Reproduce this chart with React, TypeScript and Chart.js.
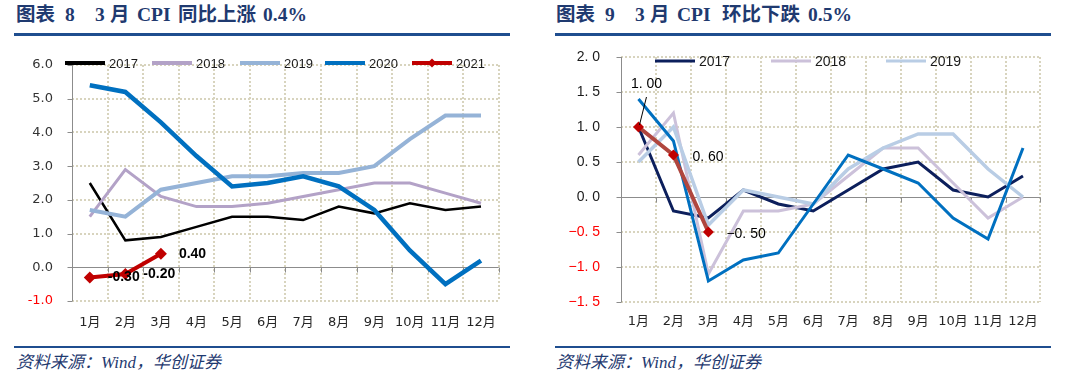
import React, { useEffect, useRef } from "react";
import { Chart, registerables } from "chart.js";
Chart.register(...registerables);

// ---------- data ----------
const months = ["1月", "2月", "3月", "4月", "5月", "6月", "7月", "8月", "9月", "10月", "11月", "12月"];

// 图表 8: CPI 同比 (%)
const yoy2017 = [2.5, 0.8, 0.9, 1.2, 1.5, 1.5, 1.4, 1.8, 1.6, 1.9, 1.7, 1.8];
const yoy2018 = [1.5, 2.9, 2.1, 1.8, 1.8, 1.9, 2.1, 2.3, 2.5, 2.5, 2.2, 1.9];
const yoy2019 = [1.7, 1.5, 2.3, 2.5, 2.7, 2.7, 2.8, 2.8, 3.0, 3.8, 4.5, 4.5];
const yoy2020 = [5.4, 5.2, 4.3, 3.3, 2.4, 2.5, 2.7, 2.4, 1.7, 0.5, -0.5, 0.2];
const yoy2021 = [-0.3, -0.2, 0.4];
const yoyTicks = { min: -1, max: 6, step: 1 };

// 图表 9: CPI 环比 (%)
const mom2017 = [1.0, -0.2, -0.3, 0.1, -0.1, -0.2, 0.1, 0.4, 0.5, 0.1, 0.0, 0.3];
const mom2018 = [0.6, 1.2, -1.1, -0.2, -0.2, -0.1, 0.3, 0.7, 0.7, 0.2, -0.3, 0.0];
const mom2019 = [0.5, 1.0, -0.4, 0.1, 0.0, -0.1, 0.4, 0.7, 0.9, 0.9, 0.4, 0.0];
const mom2020 = [1.4, 0.8, -1.2, -0.9, -0.8, -0.1, 0.6, 0.4, 0.2, -0.3, -0.6, 0.7];
const mom2021 = [1.0, 0.6, -0.5];
const momTicks = { min: -1.5, max: 2, step: 0.5 };

// titles / notes
const title8 = ["图表", "8", "3", "月", "CPI", "同比上涨", "0.4%"];
const title9 = ["图表", "9", "3", "月", "CPI", "环比下跌", "0.5%"];
const sourceNote = "资料来源：Wind，华创证券";

// ---------- styles ----------
const GRID = "#D8D4BE";
const AXIS = "#8C8C8C";
const NAVY = "#1F3A70";
const RULE = "#1F4E8F";
const XFONT = "'DejaVu Sans', 'Noto Sans CJK SC', sans-serif";
const title8X = [0, 49, 79, 94, 121, 162, 247];
const title9X = [0, 49, 79, 94, 121, 166, 252];

type LegendItem = { text: string; color: string; lw: number; marker?: string };

function gridPlugin() {
  return {
    id: "excelGrid",
    beforeDatasetsDraw(chart: any) {
      const { ctx, chartArea: a, scales } = chart;
      const x = scales.x;
      const y = scales.y;
      const n = x.getLabels().length;
      const step = (a.right - a.left) / n;
      ctx.save();
      ctx.strokeStyle = GRID;
      ctx.lineWidth = 2;
      ctx.setLineDash([2, 2]);
      ctx.beginPath();
      y.ticks.forEach((t: any) => {
        if (Math.abs(t.value) < 1e-9) return;
        const py = Math.round(y.getPixelForValue(t.value));
        ctx.moveTo(a.left, py);
        ctx.lineTo(a.right, py);
      });
      for (let i = 1; i <= n; i++) {
        const px = Math.round(a.left + i * step);
        ctx.moveTo(px, a.top);
        ctx.lineTo(px, a.bottom);
      }
      ctx.stroke();
      ctx.setLineDash([]);
      ctx.strokeStyle = AXIS;
      ctx.lineWidth = 1;
      ctx.beginPath();
      const L = Math.round(a.left) + 0.5;
      ctx.moveTo(L, a.top);
      ctx.lineTo(L, a.bottom);
      y.ticks.forEach((t: any) => {
        const py = Math.round(y.getPixelForValue(t.value)) + 0.5;
        ctx.moveTo(L - 5, py);
        ctx.lineTo(L, py);
      });
      const y0 = Math.round(y.getPixelForValue(0)) + 0.5;
      ctx.moveTo(a.left, y0);
      ctx.lineTo(a.right, y0);
      for (let i = 1; i <= n; i++) {
        const px = Math.round(a.left + i * step) + 0.5;
        ctx.moveTo(px, y0);
        ctx.lineTo(px, y0 + 5);
      }
      ctx.stroke();
      ctx.restore();
    },
  };
}

function legendPlugin(items: LegendItem[], xs: number[], y: number, lineLen: number, font: string) {
  return {
    id: "excelLegend",
    afterDatasetsDraw(chart: any) {
      const ctx = chart.ctx;
      ctx.save();
      items.forEach((it, i) => {
        const x0 = xs[i];
        ctx.strokeStyle = it.color;
        ctx.lineWidth = it.lw;
        ctx.beginPath();
        ctx.moveTo(x0, y);
        ctx.lineTo(x0 + lineLen, y);
        ctx.stroke();
        if (it.marker) {
          const cx = x0 + lineLen / 2;
          const r = 4.5;
          ctx.fillStyle = it.marker;
          ctx.beginPath();
          ctx.moveTo(cx, y - r);
          ctx.lineTo(cx + r, y);
          ctx.lineTo(cx, y + r);
          ctx.lineTo(cx - r, y);
          ctx.closePath();
          ctx.fill();
        }
        ctx.fillStyle = "#1a1a1a";
        ctx.font = font;
        ctx.textBaseline = "middle";
        ctx.textAlign = "left";
        ctx.fillText(it.text, x0 + lineLen + 4, y + 1);
      });
      ctx.restore();
    },
  };
}

type LabelSpec = { dx: number; dy: number; align: CanvasTextAlign; leader?: boolean };

function pointLabelPlugin(dsIndex: number, specs: LabelSpec[], fmt: (v: number) => string, font: string) {
  return {
    id: "pointLabels",
    afterDatasetsDraw(chart: any) {
      const ctx = chart.ctx;
      const meta = chart.getDatasetMeta(dsIndex);
      const data = chart.data.datasets[dsIndex].data as number[];
      ctx.save();
      ctx.font = font;
      ctx.fillStyle = "#000";
      ctx.textBaseline = "middle";
      meta.data.forEach((pt: any, i: number) => {
        const s = specs[i];
        if (!s) return;
        const tx = pt.x + s.dx;
        const ty = pt.y + s.dy;
        if (s.leader) {
          ctx.strokeStyle = "#000";
          ctx.lineWidth = 1;
          ctx.beginPath();
          ctx.moveTo(pt.x + 1, pt.y - 2);
          ctx.lineTo(tx, ty + 13);
          ctx.stroke();
        }
        ctx.textAlign = s.align;
        ctx.fillText(fmt(data[i]), tx, ty);
      });
      ctx.restore();
    },
  };
}

function ds(label: string, data: number[], color: string, width: number, order: number, marker?: string, radius = 6) {
  return {
    label,
    data,
    borderColor: color,
    backgroundColor: color,
    borderWidth: width,
    pointRadius: marker ? radius : 0,
    pointHoverRadius: marker ? radius : 0,
    pointStyle: "rectRot",
    pointBackgroundColor: marker || color,
    pointBorderWidth: 0,
    tension: 0,
    fill: false,
    order,
  };
}

function baseOptions(
  ticks: { min: number; max: number; step: number },
  fmt: (v: number) => string,
  yFont: { family: string; size: number },
  yGap: number,
  yWidth: number,
  xPad: number,
  xHeight: number,
  padding: any,
  tickColor: string
) {
  return {
    responsive: false,
    maintainAspectRatio: false,
    animation: false,
    devicePixelRatio: 1,
    layout: { padding },
    plugins: { legend: { display: false }, tooltip: { enabled: false }, title: { display: false } },
    scales: {
      x: {
        type: "category",
        offset: true,
        grid: { display: false, drawTicks: false },
        border: { display: false },
        ticks: {
          font: { family: XFONT, size: 13 },
          color: "#262626",
          padding: xPad,
          maxRotation: 0,
          autoSkip: false,
        },
        afterFit: (s: any) => {
          s.height = xHeight;
        },
      },
      y: {
        min: ticks.min,
        max: ticks.max,
        grid: { display: false, drawTicks: true, tickLength: yGap },
        border: { display: false },
        ticks: {
          stepSize: ticks.step,
          font: yFont,
          padding: 0,
          color: (c: any) => (c.tick && c.tick.value < 0 ? "#FF0000" : tickColor),
          callback: (v: any) => fmt(Number(v)),
        },
        afterFit: (s: any) => {
          s.width = yWidth;
        },
      },
    },
  };
}

const fmtLeft = (v: number) => v.toFixed(1);
const fmtRight = (v: number) => (v < -1e-9 ? "−" : "") + Math.abs(v).toFixed(1).replace(".", ". ");
const fmtLeftLbl = (v: number) => v.toFixed(2);
const fmtRightLbl = (v: number) => (v < 0 ? "−" : "") + Math.abs(v).toFixed(2).replace(".", ". ");

function leftConfig(): any {
  const datasets = [
    ds("2017", yoy2017, "#000000", 2.5, 5),
    ds("2018", yoy2018, "#B3A2C7", 3, 4),
    ds("2019", yoy2019, "#95B3D7", 4, 3),
    ds("2020", yoy2020, "#0070C0", 4.5, 2),
    ds("2021", yoy2021, "#C00000", 4, 1, "#C00000", 6),
  ];
  const legendItems: LegendItem[] = [
    { text: "2017", color: "#000000", lw: 4 },
    { text: "2018", color: "#B3A2C7", lw: 4 },
    { text: "2019", color: "#95B3D7", lw: 4 },
    { text: "2020", color: "#0070C0", lw: 4 },
    { text: "2021", color: "#C00000", lw: 4, marker: "#C00000" },
  ];
  return {
    type: "line",
    data: { labels: months, datasets },
    options: baseOptions(
      yoyTicks,
      fmtLeft,
      { family: "'DejaVu Sans', sans-serif", size: 13 },
      19,
      58,
      14,
      39,
      { left: 0, right: 2, top: 25, bottom: 0 },
      "#333333"
    ),
    plugins: [
      gridPlugin(),
      legendPlugin(legendItems, [51, 138, 226, 311, 398], 23, 40, "13px 'Liberation Sans', sans-serif"),
      pointLabelPlugin(
        4,
        [
          { dx: 18, dy: 0, align: "left" },
          { dx: 18, dy: 0, align: "left" },
          { dx: 18, dy: 0, align: "left" },
        ],
        fmtLeftLbl,
        "bold 14px 'Liberation Sans', sans-serif"
      ),
    ],
  };
}

function rightConfig(): any {
  const datasets = [
    ds("2017", mom2017, "#0C1F5C", 3, 5),
    ds("2018", mom2018, "#CCC1DA", 3, 4),
    ds("2019", mom2019, "#B9CDE5", 3.5, 3),
    ds("2020", mom2020, "#0070C0", 3, 2),
    ds("2021", mom2021, "#B0463E", 4, 1, "#C00000", 5.5),
  ];
  const legendItems: LegendItem[] = [
    { text: "2017", color: "#0C1F5C", lw: 3 },
    { text: "2018", color: "#CCC1DA", lw: 3 },
    { text: "2019", color: "#B9CDE5", lw: 3 },
  ];
  return {
    type: "line",
    data: { labels: months, datasets },
    options: baseOptions(
      momTicks,
      fmtRight,
      { family: "'Liberation Sans', sans-serif", size: 14 },
      21,
      66,
      12,
      38,
      { left: 0, right: 2, top: 17, bottom: 0 },
      "#1a1a1a"
    ),
    plugins: [
      gridPlugin(),
      legendPlugin(legendItems, [100, 216, 331], 21, 40, "14px 'Liberation Sans', sans-serif"),
      pointLabelPlugin(
        4,
        [
          { dx: 8, dy: -43, align: "center", leader: true },
          { dx: 19, dy: 2, align: "left" },
          { dx: 18, dy: 2, align: "left" },
        ],
        fmtRightLbl,
        "14px 'Liberation Sans', sans-serif"
      ),
    ],
  };
}

const titleFont: React.CSSProperties = {
  position: "absolute",
  top: 0,
  fontFamily: "'Liberation Serif', 'Noto Sans CJK SC', serif",
  fontWeight: 700,
  fontSize: 19.5,
  lineHeight: "20px",
  color: NAVY,
  whiteSpace: "pre",
};

const footStyle: React.CSSProperties = {
  position: "absolute",
  top: 353,
  fontFamily: "'Liberation Serif', 'Noto Sans CJK SC', serif",
  fontStyle: "italic",
  fontSize: 17,
  lineHeight: "20px",
  color: NAVY,
  whiteSpace: "pre",
};

function rule(left: number, width: number, top: number): React.CSSProperties {
  return { position: "absolute", left, top, width, height: 2.6, background: RULE };
}

function Title({ parts, xs, left }: { parts: string[]; xs: number[]; left: number }) {
  return (
    <div style={{ position: "absolute", left, top: 5, height: 20, width: 400 }}>
      {parts.map((p, i) => (
        <span key={i} style={{ ...titleFont, left: xs[i] }}>
          {p}
        </span>
      ))}
    </div>
  );
}

export default function App() {
  const leftRef = useRef<HTMLCanvasElement>(null);
  const rightRef = useRef<HTMLCanvasElement>(null);

  useEffect(() => {
    const c1 = new Chart(leftRef.current as HTMLCanvasElement, leftConfig());
    const c2 = new Chart(rightRef.current as HTMLCanvasElement, rightConfig());
    return () => {
      c1.destroy();
      c2.destroy();
    };
  }, []);

  return (
    <div
      style={{
        position: "absolute",
        left: 0,
        top: 0,
        width: 1080,
        height: 385,
        background: "#ffffff",
        overflow: "hidden",
      }}
    >
      <Title parts={title8} xs={title8X} left={16} />
      <div style={rule(14, 496, 33)} />
      <canvas
        ref={leftRef}
        width={496}
        height={300}
        style={{ position: "absolute", left: 14, top: 40, width: 496, height: 300 }}
      />
      <div style={rule(14, 496, 345.5)} />
      <div style={{ ...footStyle, left: 16 }}>{sourceNote}</div>

      <Title parts={title9} xs={title9X} left={556} />
      <div style={rule(555, 496, 33)} />
      <canvas
        ref={rightRef}
        width={495}
        height={300}
        style={{ position: "absolute", left: 555, top: 40, width: 495, height: 300 }}
      />
      <div style={rule(555, 496, 345.5)} />
      <div style={{ ...footStyle, left: 556 }}>{sourceNote}</div>
    </div>
  );
}
